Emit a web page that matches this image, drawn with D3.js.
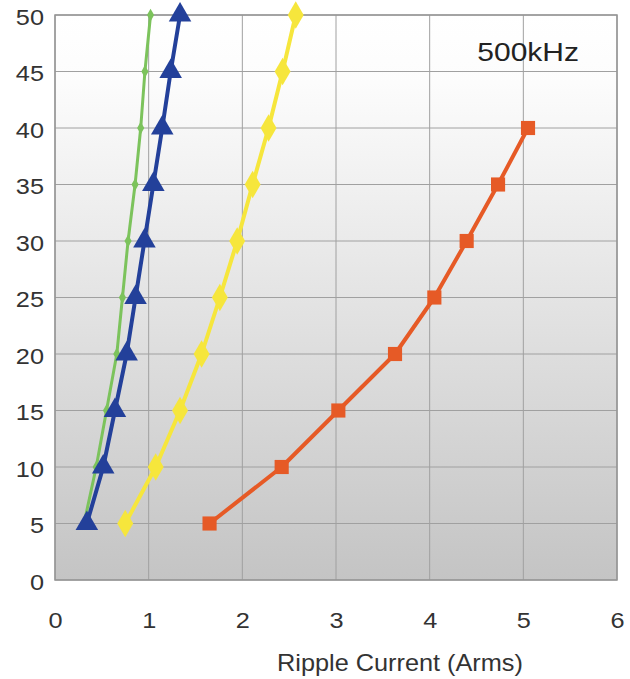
<!DOCTYPE html>
<html><head><meta charset="utf-8">
<script src="https://cdn.jsdelivr.net/npm/d3@7"></script>
<style>body{margin:0;background:#fff;}svg{display:block;font-family:"Liberation Sans",Arial,sans-serif;}</style>
</head><body><svg id="c" width="630" height="679"></svg>
<script>
const voltages = [5,10,15,20,25,30,35,40,45,50];
const greenX  = [0.31,0.44,0.55,0.66,0.72,0.78,0.855,0.915,0.96,1.02];
const blueX   = [0.34,0.515,0.64,0.765,0.86,0.955,1.05,1.145,1.235,1.335];
const yellowX = [0.75,1.075,1.335,1.565,1.76,1.945,2.11,2.28,2.43,2.57];
const orangeV = [5,10,15,20,25,30,35,40];
const orangeX = [1.65,2.42,3.025,3.63,4.05,4.395,4.73,5.05];
const xTicks = [0,1,2,3,4,5,6];
const yTicks = [0,5,10,15,20,25,30,35,40,45,50];
const xTitle = "Ripple Current (Arms)";
const annot = "500kHz";

const svg = d3.select("#c");
const L=55,R=617,T=15,B=580;
const x = d3.scaleLinear().domain([0,6]).range([L,R]);
const y = d3.scaleLinear().domain([0,50]).range([B,T]);

const defs = svg.append("defs");
const g = defs.append("linearGradient").attr("id","bg").attr("x1",0).attr("y1",0).attr("x2",0).attr("y2",1);
g.append("stop").attr("offset","0%").attr("stop-color","#ffffff");
g.append("stop").attr("offset","12%").attr("stop-color","#fcfcfc");
g.append("stop").attr("offset","100%").attr("stop-color","#c4c4c4");

svg.append("rect").attr("x",L).attr("y",T).attr("width",R-L).attr("height",B-T).attr("fill","url(#bg)");

// grid
svg.append("g").selectAll("line").data(xTicks).join("line")
  .attr("x1",d=>x(d)).attr("x2",d=>x(d)).attr("y1",T).attr("y2",B)
  .attr("stroke","#a0a0a0").attr("stroke-width",1);
svg.append("g").selectAll("line").data(yTicks).join("line")
  .attr("y1",d=>y(d)).attr("y2",d=>y(d)).attr("x1",L).attr("x2",R)
  .attr("stroke","#a0a0a0").attr("stroke-width",1);
svg.append("rect").attr("x",L).attr("y",T).attr("width",R-L).attr("height",B-T)
  .attr("fill","none").attr("stroke","#959595").attr("stroke-width",1.5);

// axes labels (source text is horizontally stretched)
const SX = 1.15;
const xa = svg.append("g").attr("transform",`translate(0,${B+48})`)
  .call(d3.axisBottom(x).tickValues(xTicks).tickSize(0).tickPadding(0).tickFormat(d3.format("d")));
xa.select(".domain").remove();
xa.selectAll("text").attr("font-size",22).attr("fill","#333").attr("font-family","Liberation Sans, Arial, sans-serif")
  .attr("dy","0").attr("transform",`scale(${SX},1)`);
const ya = svg.append("g").attr("transform",`translate(${L-11},0)`)
  .call(d3.axisLeft(y).tickValues(yTicks).tickSize(0).tickPadding(0).tickFormat(d3.format("d")));
ya.select(".domain").remove();
ya.selectAll("text").attr("font-size",22).attr("fill","#333").attr("font-family","Liberation Sans, Arial, sans-serif")
  .attr("dy","0.42em").attr("transform",`scale(${SX},1)`);

svg.append("text").attr("transform",`translate(400,671) scale(1.1,1)`).attr("text-anchor","middle")
  .attr("font-size",23).attr("fill","#333").text(xTitle);
svg.append("text").attr("transform",`translate(579,61) scale(1.2,1)`).attr("text-anchor","end")
  .attr("font-size",25).attr("fill","#222").text(annot);

const line = d3.line().x(d=>x(d[0])).y(d=>y(d[1]));
function series(xs, vs, color, w, sym, size){
  const pts = xs.map((v,i)=>[v,vs[i]]);
  svg.append("path").datum(pts).attr("d",line).attr("fill","none")
    .attr("stroke",color).attr("stroke-width",w).attr("stroke-linejoin","round");
  svg.append("g").selectAll("path").data(pts).join("path")
    .attr("transform",d=>`translate(${x(d[0])},${y(d[1])})`)
    .attr("d",d3.symbol().type(sym).size(size)).attr("fill",color);
}
series(greenX, voltages, "#7cc35c", 3, d3.symbolDiamond, 45);
series(orangeX, orangeV, "#e65a26", 4, d3.symbolSquare, 200);
series(yellowX, voltages, "#f6e63c", 4, d3.symbolDiamond, 220);
series(blueX, voltages, "#23409a", 4, d3.symbolTriangle, 220);
</script></body></html>
